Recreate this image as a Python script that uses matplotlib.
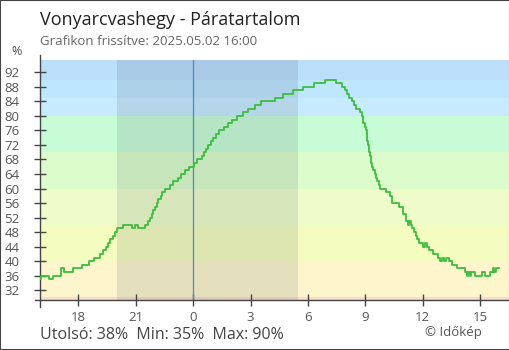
import numpy as np
import matplotlib.pyplot as plt
import matplotlib.patches as patches
from matplotlib.lines import Line2D

plt.rcParams['font.family'] = ['Open Sans', 'DejaVu Sans']

# Idő (óra, éjfélhez képest) és páratartalom (%) lépcsős adatai
hours = [-8.0, -7.95, -7.53, -7.32, -6.88, -6.75, -6.30, -5.78, -5.43, -5.17,
         -4.88, -4.70, -4.56, -4.44, -4.32, -4.21, -4.09, -3.97, -3.66, -3.19,
         -3.05, -2.87, -2.52, -2.35, -2.26, -2.17, -2.09, -2.00, -1.91, -1.83,
         -1.70, -1.62, -1.48, -1.22, -1.05, -0.78, -0.61, -0.43, -0.21, 0.04,
         0.21, 0.44, 0.56, 0.66, 0.78, 0.91, 1.05, 1.22, 1.36, 1.60,
         1.83, 2.04, 2.30, 2.58, 2.88, 3.23, 3.54, 4.27, 4.70, 5.23,
         5.75, 6.31, 6.88, 7.44, 7.79, 7.93, 8.05, 8.16, 8.28, 8.40,
         8.51, 8.71, 8.80, 8.86, 8.89, 8.96, 9.03, 9.06, 9.10, 9.15,
         9.20, 9.24, 9.27, 9.34, 9.41, 9.50, 9.55, 9.62, 9.69, 9.76,
         10.07, 10.28, 10.40, 10.77, 10.98, 11.12, 11.21, 11.28, 11.36, 11.43,
         11.54, 11.63, 11.71, 11.81, 12.02, 12.10, 12.20, 12.34, 12.55, 12.81,
         12.92, 12.99, 13.10, 13.20, 13.35, 13.51, 13.77, 14.20, 14.29, 14.37,
         14.46, 14.54, 14.73, 15.08, 15.25, 15.51, 15.68, 15.74, 15.82, 16.0]
humidity = [35, 36, 35, 36, 38, 37, 38, 39, 40, 41,
            42, 43, 44, 45, 46, 47, 48, 49, 50, 49,
            50, 49, 50, 51, 52, 53, 54, 55, 56, 57,
            58, 59, 60, 61, 62, 63, 64, 65, 66, 67,
            68, 69, 70, 71, 72, 73, 74, 75, 76, 77,
            78, 79, 80, 81, 82, 83, 84, 85, 86, 87,
            88, 89, 90, 89, 88, 87, 86, 85, 84, 83,
            82, 81, 80, 79, 78, 77, 76, 75, 73, 72,
            70, 69, 67, 66, 65, 64, 63, 62, 61, 60,
            59, 58, 56, 55, 53, 51, 50, 51, 50, 49,
            48, 47, 46, 45, 44, 45, 44, 43, 42, 41,
            40, 41, 40, 41, 40, 39, 38, 37, 36, 37,
            36, 37, 36, 37, 36, 37, 38, 37, 38, 38]

# Háttérsávok (alsó határ, felső határ, szín)
band_edges = [25, 30, 40, 50, 60, 70, 80, 85, 90, 100]
band_colors = ['#f8dccc', '#fdf5cc', '#f5fcc0', '#eefcca', '#dcfccb',
               '#c8fcd6', '#c8eafe', '#bee6fe', '#bbdefb']

night_start, night_end = -4.0, 5.47
y_ticks = np.arange(32, 93, 4)
x_ticks = [-6, -3, 0, 3, 6, 9, 12, 15]
x_labels = ['18', '21', '0', '3', '6', '9', '12', '15']

W, H = 510, 350
fig = plt.figure(figsize=(W / 100, H / 100), dpi=100)
ax = fig.add_axes([40 / W, 50 / H, 469 / W, 240 / H])

for lo, hi, c in zip(band_edges[:-1], band_edges[1:], band_colors):
    ax.axhspan(lo, hi, color=c, lw=0, zorder=0)

ax.axvspan(night_start, night_end, color='#102030', alpha=0.1, lw=0, zorder=1)
ax.axvline(0, color='#3a8fd0', lw=0.9, zorder=2)

ax.step(hours, humidity, where='post', color='#3cbe3c', lw=1.3, zorder=3)

ax.set_xlim(-8.0, 16.5)
ax.set_ylim(29.3, 95.4)

for s in ['top', 'right', 'left', 'bottom']:
    ax.spines[s].set_visible(False)

# tengelyvonalak kicsit túllógva
axis_c = '#444444'
ax.add_line(Line2D([0, 0], [-0.03, 1.02], transform=ax.transAxes, color=axis_c, lw=1, clip_on=False))
ax.add_line(Line2D([-0.011, 1.0], [0, 0], transform=ax.transAxes, color=axis_c, lw=1, clip_on=False))

ax.set_yticks(y_ticks)
ax.set_xticks(x_ticks)
ax.set_xticklabels(x_labels)
ax.tick_params(direction='inout', length=9, width=1, color=axis_c,
               labelcolor='#555555', labelsize=9.5)
ax.tick_params(axis='y', pad=10)
ax.tick_params(axis='x', pad=3.5)

fig.text(40 / W, 1 - 25 / H, 'Vonyarcvashegy - Páratartalom', fontsize=13,
         color='#222222', va='baseline')
fig.text(40 / W, 1 - 45 / H, 'Grafikon frissítve: 2025.05.02 16:00', fontsize=9.5,
         color='#666666', va='baseline')
fig.text(17 / W, 1 - 55 / H, '%', fontsize=9, color='#555555', va='baseline', ha='center')
fig.text(40 / W, 1 - 339 / H, 'Utolsó: 38%  Min: 35%  Max: 90%', fontsize=11.5,
         color='#444444', va='baseline')
fig.text(482 / W, 1 - 336 / H, '© Időkép', fontsize=9.5, color='#555555',
         va='baseline', ha='right')

fig.add_artist(patches.Rectangle((0, 0), 1, 1, transform=fig.transFigure, fill=False,
                                 edgecolor='#444444', lw=1.5))

fig.savefig('out.png', dpi=100)
